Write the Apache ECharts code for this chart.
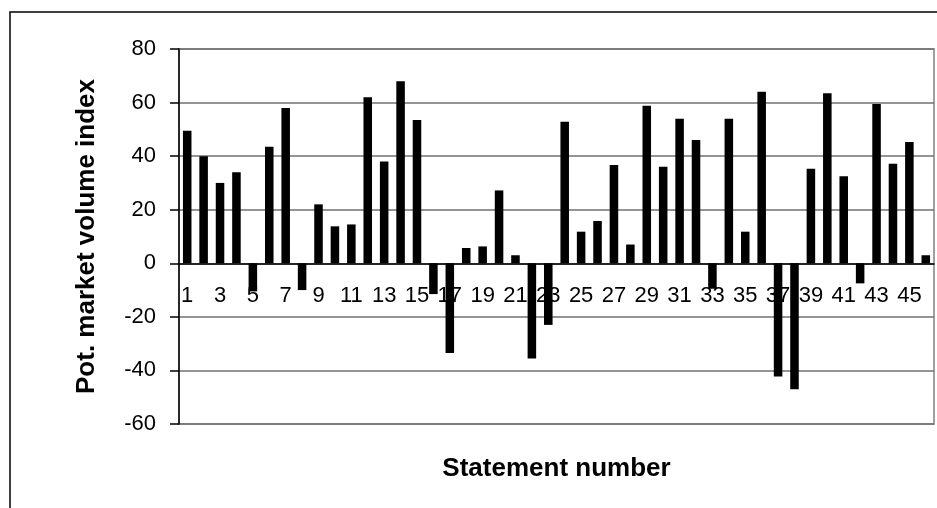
<!DOCTYPE html>
<html>
<head>
<meta charset="utf-8">
<script src="https://cdn.jsdelivr.net/npm/echarts@6/dist/echarts.min.js"></script>
<style>
  html, body { margin: 0; padding: 0; background: #fff; }
  #chart { width: 937px; height: 508px; }
</style>
</head>
<body>
<div id="chart"></div>
<script>
// Statement numbers 1..46
const statements = [
  '1','2','3','4','5','6','7','8','9','10',
  '11','12','13','14','15','16','17','18','19','20',
  '21','22','23','24','25','26','27','28','29','30',
  '31','32','33','34','35','36','37','38','39','40',
  '41','42','43','44','45','46'
];

// Potential market volume index per statement
const volumeIndex = [
  49.5, 40, 30, 34, -10.5, 43.5, 58, -10, 22, 13.8,
  14.5, 62, 38, 68, 53.5, -11.5, -33.5, 5.7, 6.3, 27.2,
  3, -35.5, -23, 52.8, 11.8, 15.8, 36.7, 7, 58.8, 36,
  54, 46, -9.5, 54, 11.8, 64, -42.3, -47, 35.3, 63.5,
  32.5, -7.5, 59.5, 37.2, 45.3, 3
];

// Value axis ticks
const yTicks = { min: -60, max: 80, step: 20 };

const FONT = '"Liberation Sans", Arial, sans-serif';
const NAME_GAP_X = 193; // distance from the category axis line to its title

const chart = echarts.init(document.getElementById('chart'), null, { renderer: 'canvas' });

chart.setOption({
  animation: false,
  backgroundColor: '#ffffff',
  graphic: [{
    type: 'rect',
    shape: { x: 10, y: 12, width: 960, height: 520 },
    style: { fill: 'none', stroke: '#000000', lineWidth: 1.5 },
    silent: true,
    z: -10
  }],
  grid: {
    left: 179, right: 3, top: 49, bottom: 84,
    containLabel: false,
    outerBoundsMode: 'none',
    show: true,
    borderColor: '#a0a0a0',
    borderWidth: 2,
    backgroundColor: 'transparent'
  },
  xAxis: {
    type: 'category',
    data: statements,
    position: 'bottom',
    name: 'Statement number',
    nameLocation: 'middle',
    nameGap: NAME_GAP_X,
    nameTextStyle: { fontFamily: FONT, fontSize: 26, fontWeight: 'bold', color: '#000' },
    axisLine: { onZero: false, lineStyle: { color: '#000', width: 1.5 } },
    axisTick: { show: false },
    axisLabel: {
      interval: 1,
      margin: 22,
      fontFamily: FONT,
      fontSize: 22,
      color: '#000'
    },
    splitLine: { show: false }
  },
  yAxis: {
    type: 'value',
    min: yTicks.min,
    max: yTicks.max,
    interval: yTicks.step,
    name: 'Pot. market volume index',
    nameLocation: 'middle',
    nameGap: 79,
    nameTextStyle: { fontFamily: FONT, fontSize: 26, fontWeight: 'bold', color: '#000' },
    axisLine: { show: true, lineStyle: { color: '#000', width: 1.5 } },
    axisTick: { show: true, length: 9, lineStyle: { color: '#000', width: 1.5 } },
    axisLabel: {
      margin: 23,
      fontFamily: FONT,
      fontSize: 22,
      color: '#000'
    },
    splitLine: { show: true, lineStyle: { color: '#707070', width: 1.5 } }
  },
  series: [{
    type: 'bar',
    data: volumeIndex,
    barWidth: '52%',
    itemStyle: { color: '#000000' }
  }]
});

// Lift the category axis (line, labels, title) up to the value-axis zero line.
const zeroY = chart.convertToPixel({ yAxisIndex: 0 }, 0);
const floorY = chart.convertToPixel({ yAxisIndex: 0 }, yTicks.min);
chart.setOption({ xAxis: { offset: -(floorY - zeroY) } });
</script>
</body>
</html>
